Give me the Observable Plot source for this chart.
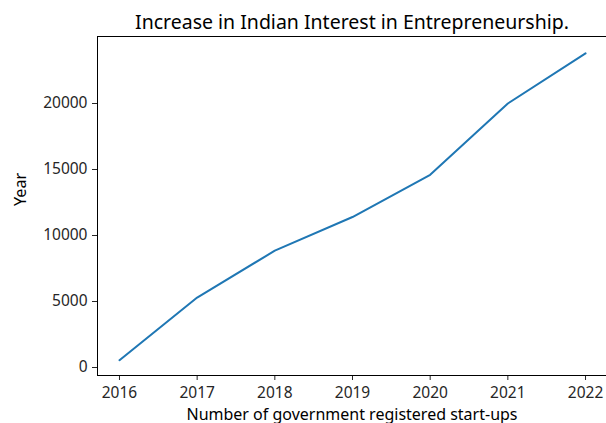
<!DOCTYPE html>
<html>
<head>
<meta charset="utf-8">
<script src="https://cdn.jsdelivr.net/npm/d3@7"></script>
<script src="https://cdn.jsdelivr.net/npm/@observablehq/plot@0.6"></script>
<style>
  html, body { margin: 0; padding: 0; background: #fff; }
  #chart svg { display: block; }
</style>
</head>
<body>
<div id="chart"></div>
<script>
const years = [2016, 2017, 2018, 2019, 2020, 2021, 2022];
const startups = [550, 5300, 8850, 11400, 14600, 20000, 23800];
const yTicks = [0, 5000, 10000, 15000, 20000];
const title = "Increase in Indian Interest in Entrepreneurship.";
const xLabel = "Number of government registered start-ups";
const yLabel = "Year";

const data = years.map((y, i) => ({year: y, value: startups[i]}));
const xDomain = [2015.717, 2022.27];
const yDomain = [-606, 25076];
const font = "Noto Sans";

const chart = Plot.plot({
  width: 606,
  height: 423,
  marginLeft: 97,
  marginRight: 0,
  marginTop: 36,
  marginBottom: 48,
  style: {fontFamily: font, fontSize: "15.5px", color: "#262626", background: "#fff"},
  x: {domain: xDomain},
  y: {domain: yDomain},
  marks: [
    Plot.axisX({ticks: years, tickFormat: "d", tickSize: 5, tickPadding: 6, fontSize: 15.5, label: null}),
    Plot.axisY({ticks: yTicks, tickFormat: "d", tickSize: 5, tickPadding: 5, fontSize: 15.5, label: null}),
    Plot.ruleX([xDomain[0]], {stroke: "#000", strokeWidth: 1}),
    Plot.ruleY([yDomain[0], yDomain[1]], {stroke: "#000", strokeWidth: 1}),
    Plot.line(data, {x: "year", y: "value", stroke: "#1f77b4", strokeWidth: 2}),
    Plot.text([title], {frameAnchor: "top", dy: -14, fontSize: 19.5, fill: "#000", lineAnchor: "middle"}),
    Plot.text([xLabel], {frameAnchor: "bottom", dy: 39, fontSize: 16, fill: "#000", lineAnchor: "middle"}),
    Plot.text([yLabel], {frameAnchor: "left", dx: -77, rotate: -90, fontSize: 16.2, fill: "#000", lineAnchor: "middle"})
  ]
});
document.getElementById("chart").appendChild(chart);
</script>
</body>
</html>
